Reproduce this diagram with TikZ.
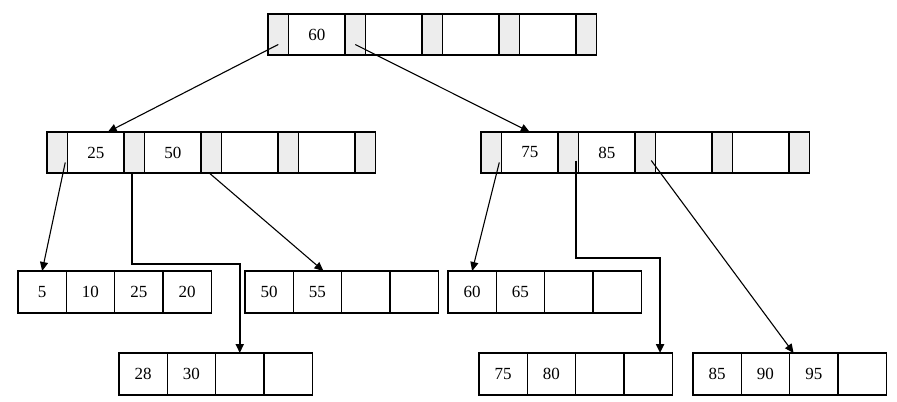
\documentclass[tikz,border=0pt]{standalone}
\usepackage{fontspec}
\setmainfont{Liberation Serif}
\usepackage{tikz}
\usetikzlibrary{arrows.meta,positioning}
\usepackage{xcolor}
\definecolor{ptrgray}{RGB}{237,237,237}

\tikzset{
  cell/.style={draw, line width=0.7pt, inner sep=0pt, outer sep=0pt,
    font=\fontsize{8.5}{10}\selectfont},
  ptrcell/.style={cell, fill=ptrgray, minimum width=10.25pt, minimum height=20.5pt},
  keycell/.style={cell, minimum width=28.25pt, minimum height=20.5pt},
  leafcell/.style={cell, minimum width=24.15pt, minimum height=21pt},
  link/.style={-{Triangle[length=4.5pt,width=4pt]}, line width=0.55pt},
  boldlink/.style={-{Triangle[length=4.5pt,width=4pt]}, line width=1pt},
}

% inner node: name, x, y, keys (pointer cells between the keys)
\newcommand{\innernode}[4]{%
  \node[ptrcell, anchor=north west] (#1-p0) at (#2,#3) {};
  \foreach \key [count=\i] in {#4} {
    \pgfmathtruncatemacro{\prev}{\i-1}
    \node[keycell, right=0pt of #1-p\prev] (#1-k\i) {\key};
    \node[ptrcell, right=0pt of #1-k\i] (#1-p\i) {};
  }%
}
% leaf node: name, x, y, four keys
\newcommand{\leafnode}[7]{%
  \node[leafcell, anchor=north west] (#1-k1) at (#2,#3) {#4};
  \node[leafcell, right=0pt of #1-k1] (#1-k2) {#5};
  \node[leafcell, right=0pt of #1-k2] (#1-k3) {#6};
  \node[leafcell, right=0pt of #1-k3] (#1-k4) {#7};
}

\begin{document}
\begin{tikzpicture}[x=0.5pt, y=-0.5pt]
    \useasboundingbox (0,0) rectangle (897,401);
    % inner nodes
    \innernode{root}{268}{14}{60,{},{},{}}
    \innernode{left}{47}{132}{25,50,{},{}}
    \innernode{right}{481}{132}{75,85,{},{}}
    % leaves
    \leafnode{leafa}{18}{271}{5}{10}{25}{20}
    \leafnode{leafb}{245}{271}{50}{55}{}{}
    \leafnode{leafc}{448}{271}{60}{65}{}{}
    \leafnode{leafd}{119}{353}{28}{30}{}{}
    \leafnode{leafe}{479}{353}{75}{80}{}{}
    \leafnode{leaff}{693}{353}{85}{90}{95}{}
    % pointers
    \draw[link] ([yshift=-5pt]root-p0.center) -- ([xshift=6pt]left-k1.north);
    \draw[link] ([yshift=-5pt]root-p1.center) -- (right-k1.north);
    \draw[link] ([xshift=4pt,yshift=-5pt]left-p0.center) -- (leafa-k1.north);
    \draw[boldlink] ([xshift=-1pt]left-p1.south) -- ++(0,91) -| (leafd-k3.north);
    \draw[link] ([xshift=-1pt]left-p2.south) -- ([xshift=3pt]leafb-k2.north);
    \draw[link] ([xshift=4pt,yshift=-5pt]right-p0.center) -- (leafc-k1.north);
    \draw[boldlink] ([xshift=4pt,yshift=-4pt]right-p1.center) -- ++(0,97) -| ([xshift=6pt]leafe-k4.north);
    \draw[link] ([xshift=3pt,yshift=-4pt]right-p2.center) -- ([xshift=2pt]leaff-k3.north west);
\end{tikzpicture}
\end{document}
